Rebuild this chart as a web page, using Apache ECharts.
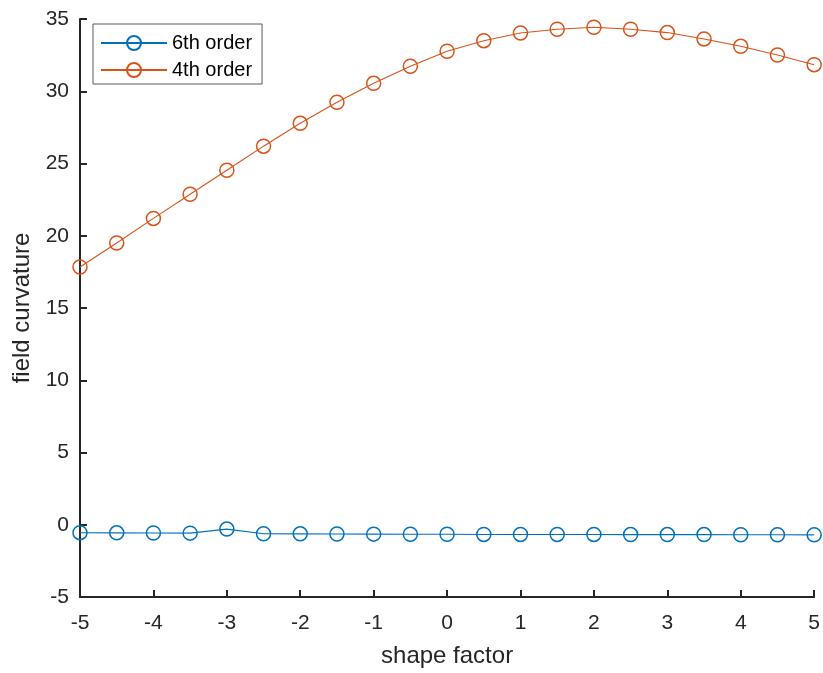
<!DOCTYPE html>
<html>
<head>
<meta charset="utf-8">
<script src="https://cdn.jsdelivr.net/npm/echarts@6/dist/echarts.min.js"></script>
<style>html,body{margin:0;padding:0;background:#fff}#chart{width:823px;height:673px}</style>
</head>
<body>
<div id="chart"></div>
<script>
var shapeFactor = [-5, -4.5, -4, -3.5, -3, -2.5, -2, -1.5, -1, -0.5, 0, 0.5, 1, 1.5, 2, 2.5, 3, 3.5, 4, 4.5, 5];
var sixthOrder = [-0.55, -0.56, -0.57, -0.58, -0.3, -0.62, -0.63, -0.64, -0.65, -0.66, -0.66, -0.67, -0.67, -0.67, -0.67, -0.68, -0.68, -0.68, -0.69, -0.69, -0.7];
var fourthOrder = [17.84, 19.5, 21.2, 22.87, 24.53, 26.2, 27.78, 29.24, 30.55, 31.73, 32.77, 33.5, 34.03, 34.29, 34.43, 34.29, 34.06, 33.62, 33.11, 32.51, 31.84];
var seriesNames = ['6th order', '4th order'];
var seriesColors = ['#0072BD', '#D95319'];
var xTicks = {min: -5, max: 5, interval: 1};
var yTicks = {min: -5, max: 35, interval: 5};

function pairs(ys) { return shapeFactor.map(function (x, i) { return [x, ys[i]]; }); }

var font = 'Liberation Sans, Arial, Helvetica, sans-serif';
var axisColor = '#262626';
var chart = echarts.init(document.getElementById('chart'), null, {renderer: 'canvas'});

function makeSeries(name, ys, color) {
  return {
    name: name, type: 'line', data: pairs(ys),
    symbol: 'circle', symbolSize: 14,
    color: color,
    lineStyle: {width: 1.1, color: color},
    itemStyle: {color: 'rgba(0,0,0,0)', borderColor: color, borderWidth: 1.5},
    emphasis: {disabled: true}
  };
}

chart.setOption({
  animation: false,
  backgroundColor: '#ffffff',
  grid: {left: 80, right: 6, top: 19, bottom: 76, containLabel: false},
  legend: {
    orient: 'vertical', left: 93, top: 24,
    padding: [9, 10, 4, 7], itemGap: 7,
    itemWidth: 66, itemHeight: 17.5,
    borderColor: '#5a5a5a', borderWidth: 1,
    backgroundColor: '#fff',
    textStyle: {fontFamily: font, fontSize: 20, color: '#000'},
    data: seriesNames
  },
  xAxis: {
    type: 'value', min: xTicks.min, max: xTicks.max, interval: xTicks.interval,
    name: 'shape factor', nameLocation: 'middle', nameGap: 47,
    nameTextStyle: {fontFamily: font, fontSize: 24, color: axisColor},
    axisLine: {onZero: false, lineStyle: {color: axisColor, width: 2}},
    axisTick: {inside: true, length: 7, lineStyle: {color: axisColor, width: 2}},
    axisLabel: {fontFamily: font, fontSize: 21, color: axisColor, margin: 16},
    splitLine: {show: false}
  },
  yAxis: {
    type: 'value', min: yTicks.min, max: yTicks.max, interval: yTicks.interval,
    name: 'field curvature', nameLocation: 'middle', nameGap: 44,
    nameTextStyle: {fontFamily: font, fontSize: 24, color: axisColor},
    axisLine: {show: true, onZero: false, lineStyle: {color: axisColor, width: 2}},
    axisTick: {show: true, inside: true, length: 7, lineStyle: {color: axisColor, width: 2}},
    axisLabel: {fontFamily: font, fontSize: 21, color: axisColor, margin: 11},
    splitLine: {show: false}
  },
  series: [
    makeSeries(seriesNames[0], sixthOrder, seriesColors[0]),
    makeSeries(seriesNames[1], fourthOrder, seriesColors[1])
  ]
});
</script>
</body>
</html>
